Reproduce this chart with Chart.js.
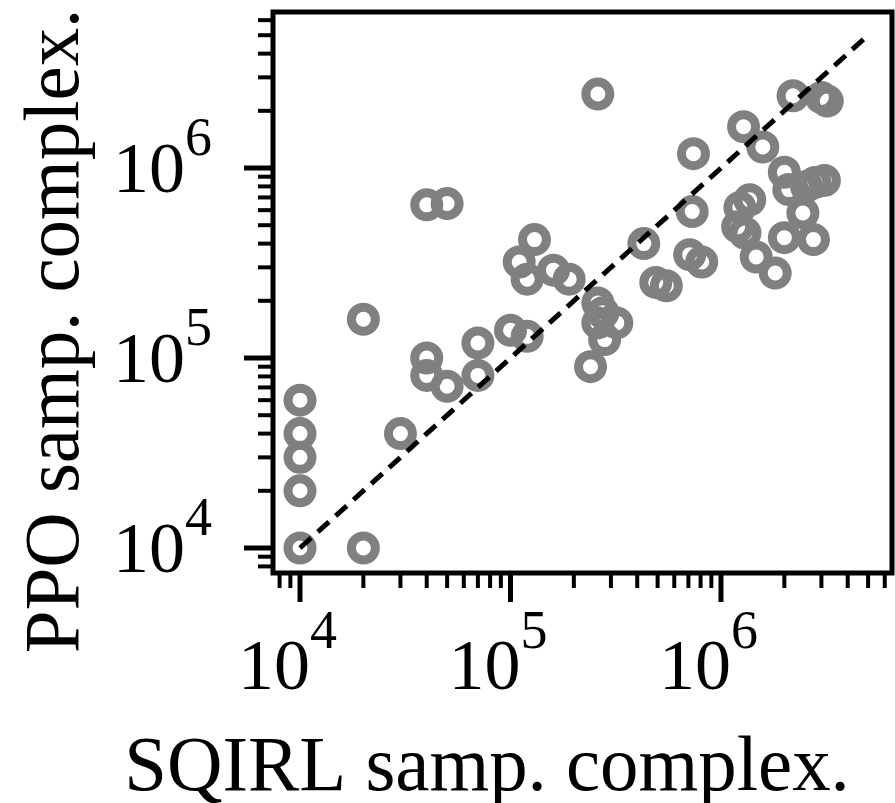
<!DOCTYPE html>
<html>
<head>
<meta charset="utf-8">
<script src="https://cdn.jsdelivr.net/npm/chart.js@4"></script>
<style>
  html, body { margin: 0; padding: 0; background: #fff; }
  #wrap { width: 895px; height: 803px; }
</style>
</head>
<body>
<div id="wrap"><canvas id="myChart" width="895" height="803"></canvas></div>
<script>
// SQIRL sample complexity (x) vs PPO sample complexity (y), one point per task
var sqirlSamples = [
  1e4, 1e4, 1e4, 1e4, 1e4,
  2e4, 2e4, 3e4, 4e4, 4e4, 5e4, 4e4, 5e4,
  7e4, 7e4, 1.0e5, 1.2e5, 1.1e5, 1.3e5, 1.2e5, 1.6e5, 1.9e5,
  2.6e5, 2.75e5, 2.6e5, 3.2e5, 2.8e5, 2.4e5,
  4.3e5, 4.9e5, 5.5e5, 2.6e5,
  7.4e5, 7.3e5, 7.1e5, 8.1e5,
  1.28e6, 1.58e6, 1.23e6, 1.37e6, 1.2e6, 1.3e6, 1.47e6, 1.81e6,
  2.0e6, 2.1e6, 2.55e6, 2.8e6, 3.1e6, 2.45e6, 2.0e6, 2.75e6,
  2.2e6, 3.0e6, 3.2e6
];
var ppoSamples = [
  1e4, 2e4, 3e4, 4e4, 6e4,
  1e4, 1.6e5, 4e4, 1e5, 8.1e4, 7.1e4, 6.4e5, 6.5e5,
  1.2e5, 8.1e4, 1.4e5, 1.3e5, 3.2e5, 4.2e5, 2.6e5, 2.9e5, 2.6e5,
  1.95e5, 1.73e5, 1.53e5, 1.53e5, 1.25e5, 9e4,
  4.0e5, 2.5e5, 2.4e5, 2.45e6,
  1.19e6, 5.9e5, 3.5e5, 3.2e5,
  1.65e6, 1.29e6, 6.2e5, 6.8e5, 4.9e5, 4.55e5, 3.4e5, 2.8e5,
  9.5e5, 7.7e5, 8.0e5, 8.4e5, 8.6e5, 5.8e5, 4.3e5, 4.2e5,
  2.4e6, 2.35e6, 2.25e6
];
// y = x reference line
var diagonalEnds = [1e4, 5e6];
// decade tick labels (10^n)
var tickExponents = ['4', '5', '6'];
var tickDecades = [1e4, 1e5, 1e6];

var points = sqirlSamples.map(function (x, i) { return { x: x, y: ppoSamples[i] }; });
var diagonal = diagonalEnds.map(function (v) { return { x: v, y: v }; });

var SERIF = '"Liberation Serif", "Times New Roman", serif';

// draws frame, log tick marks, 10^n labels and axis titles
var axisPlugin = {
  id: 'axisPlugin',
  afterDraw: function (chart) {
    var ctx = chart.ctx;
    var a = chart.chartArea;
    var xs = chart.scales.x, ys = chart.scales.y;
    ctx.save();
    ctx.strokeStyle = '#000';
    ctx.fillStyle = '#000';

    // tick marks, every 1..9 x 10^n inside the range
    for (var e = 3; e <= 6; e++) {
      for (var m = 1; m <= 9; m++) {
        var v = m * Math.pow(10, e);
        var major = (m === 1);
        var len = major ? 29 : 15;
        ctx.lineWidth = major ? 5 : 4;
        if (v >= xs.min && v <= xs.max) {
          var px = xs.getPixelForValue(v);
          ctx.beginPath();
          ctx.moveTo(px, a.bottom);
          ctx.lineTo(px, a.bottom + len);
          ctx.stroke();
        }
        if (v >= ys.min && v <= ys.max) {
          var py = ys.getPixelForValue(v);
          ctx.beginPath();
          ctx.moveTo(a.left, py);
          ctx.lineTo(a.left - len, py);
          ctx.stroke();
        }
      }
    }

    // frame
    ctx.lineWidth = 5;
    ctx.strokeRect(a.left, a.top, a.right - a.left, a.bottom - a.top);

    // 10^n labels
    var baseFont = '72px ' + SERIF;
    var supFont = '54px ' + SERIF;
    ctx.textAlign = 'left';
    ctx.textBaseline = 'alphabetic';
    tickDecades.forEach(function (v, i) {
      var exp = tickExponents[i];
      ctx.font = baseFont;
      var wb = ctx.measureText('10').width;

      // x axis
      var tx = xs.getPixelForValue(v);
      var sx = tx - 62;
      ctx.font = baseFont;
      ctx.fillText('10', sx, 689);
      ctx.font = supFont;
      ctx.fillText(exp, sx + wb, 648);

      // y axis
      var ty = ys.getPixelForValue(v);
      var sy = a.left - 160;
      ctx.font = baseFont;
      ctx.fillText('10', sy, ty + 24);
      ctx.font = supFont;
      ctx.fillText(exp, sy + wb, ty - 13);
    });

    // axis titles
    ctx.font = '78px ' + SERIF;
    ctx.textAlign = 'center';
    ctx.textBaseline = 'alphabetic';
    ctx.save();
    ctx.translate(487, 790);
    ctx.scale(0.985, 1);
    ctx.fillText('SQIRL samp. complex.', 0, 0);
    ctx.restore();
    ctx.save();
    ctx.translate(78, 331);
    ctx.rotate(-Math.PI / 2);
    ctx.scale(0.985, 1);
    ctx.fillText('PPO samp. complex.', 0, 0);
    ctx.restore();

    ctx.restore();
  }
};

var ctx = document.getElementById('myChart').getContext('2d');
var chart = new Chart(ctx, {
    type: 'scatter',
    data: {
        datasets: [
            {
                label: 'tasks',
                data: points,
                order: 2,
                pointStyle: 'circle',
                pointRadius: 12,
                pointHoverRadius: 12,
                pointBorderWidth: 9,
                borderColor: '#808080',
                pointBorderColor: '#808080',
                backgroundColor: 'rgba(0,0,0,0)',
                pointBackgroundColor: 'rgba(0,0,0,0)'
            },
            {
                label: 'y = x',
                data: diagonal,
                order: 1,
                showLine: true,
                borderColor: '#000',
                borderWidth: 5,
                borderDash: [15, 9],
                pointRadius: 0
            }
        ]
    },
    options: {
        responsive: false,
        animation: false,
        events: [],
        layout: { autoPadding: false, padding: { left: 273, right: 3, top: 12, bottom: 230 } },
        plugins: {
            legend: { display: false },
            tooltip: { enabled: false }
        },
        scales: {
            x: {
                type: 'logarithmic',
                min: 7442,
                max: 6.494e6,
                border: { display: false },
                grid: { display: false, drawTicks: false },
                ticks: { display: false }
            },
            y: {
                type: 'logarithmic',
                min: 7386,
                max: 6.624e6,
                border: { display: false },
                grid: { display: false, drawTicks: false },
                ticks: { display: false }
            }
        }
    },
    plugins: [axisPlugin]
});
</script>
</body>
</html>
